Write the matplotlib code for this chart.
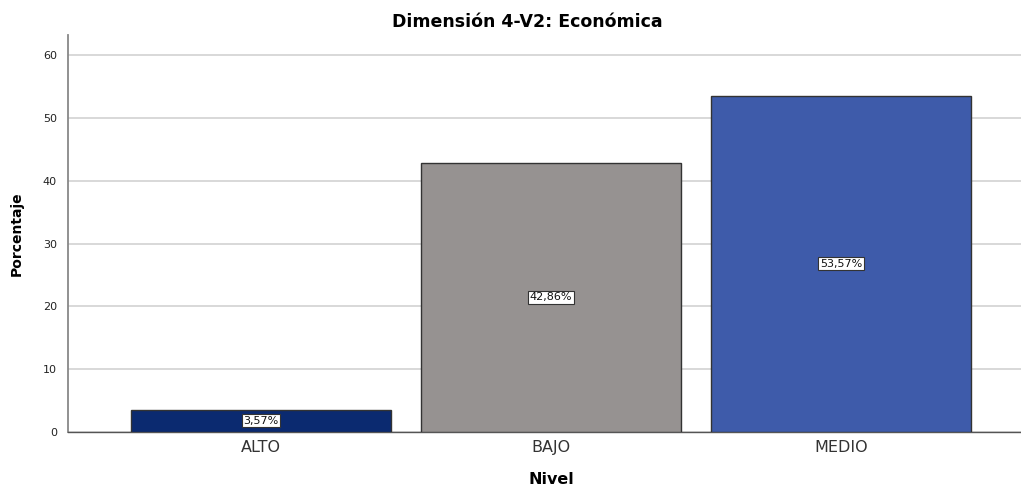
import matplotlib
matplotlib.use("Agg")
import matplotlib.pyplot as plt

# Data
categories = ["ALTO", "BAJO", "MEDIO"]
percentages = [3.57, 42.86, 53.57]
bar_colors = ["#0b2a70", "#969291", "#3e5baa"]
y_ticks = [0, 10, 20, 30, 40, 50, 60]

plt.rcParams["font.family"] = ["DejaVu Sans"]

fig = plt.figure(figsize=(10.21, 4.88), dpi=100)
ax = fig.add_axes([0.0666, 0.1148, 0.9334, 0.8132])

x = list(range(len(categories)))
bars = ax.bar(x, percentages, width=0.897, color=bar_colors,
              edgecolor="#333333", linewidth=1.0, zorder=3)

for xi, v in zip(x, percentages):
    ax.text(xi, v / 2, f"{v:.2f}%".replace(".", ","), ha="center", va="center",
            fontsize=8, color="#111111", zorder=4,
            bbox=dict(boxstyle="square,pad=0.15", facecolor="white",
                      edgecolor="#333333", linewidth=0.8))

ax.set_xlim(-0.666, 2.621)
ax.set_ylim(0, 63.2)
ax.set_yticks(y_ticks)
ax.set_xticks(x)
ax.set_xticklabels(categories, fontsize=11.5, color="#333333")
ax.tick_params(axis="y", labelsize=8, length=0, pad=8, colors="#222222")
ax.tick_params(axis="x", length=0, pad=6)

ax.yaxis.grid(True, color="#d6d6d6", linewidth=1.3, zorder=0)
ax.set_axisbelow(True)

for s in ["top", "right"]:
    ax.spines[s].set_visible(False)
ax.spines["left"].set_color("#888888")
ax.spines["left"].set_linewidth(1.3)
ax.spines["bottom"].set_color("#555555")
ax.spines["bottom"].set_linewidth(1.0)

ax.set_ylabel("Porcentaje", fontsize=10, fontweight="bold", labelpad=14)
fig.text(551 / 1021, 1 - 479 / 488, "Nivel", ha="center", va="center",
         fontsize=11.5, fontweight="bold")
fig.text(0.5165, 0.955, "Dimensión 4-V2: Económica", ha="center", va="center",
         fontsize=12.5, fontweight="bold")

fig.savefig("out.png", dpi=100, facecolor="white")
